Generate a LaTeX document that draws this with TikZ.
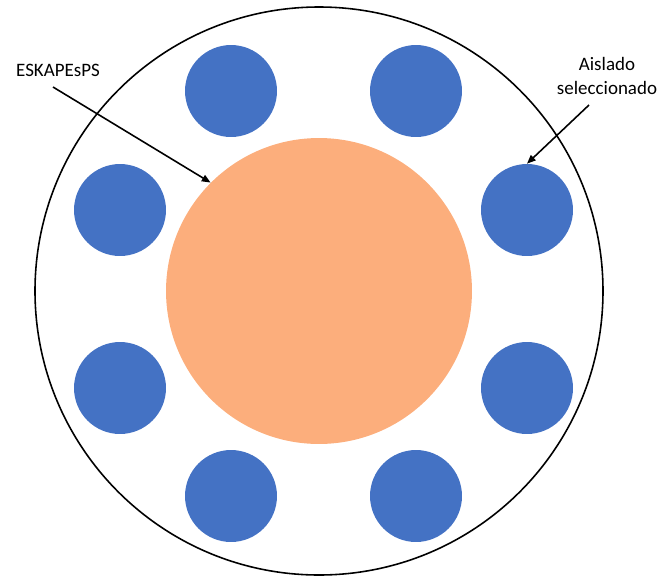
\documentclass[tikz,border=0pt]{standalone}
\usepackage{fontspec}
\setmainfont{Carlito}
\usepackage{tikz}
\usetikzlibrary{arrows.meta}

\definecolor{isoblue}{RGB}{68,114,196}
\definecolor{coreorange}{RGB}{252,174,124}

\begin{document}
\begin{tikzpicture}[
  x=0.02cm, y=-0.02cm,
  font=\fontsize{10.8}{13.6}\selectfont,
  >={Triangle[length=5pt,width=4pt]},
  every node/.style={align=center},
  ring/.style={draw, line width=0.9pt},
  iso/.style={circle, fill=isoblue, minimum size=1.84cm, inner sep=0pt},
  core/.style={circle, fill=coreorange, minimum size=6.12cm, inner sep=0pt},
  lbl/.style={inner sep=1pt},
  arr/.style={->, line width=0.9pt}
]
\useasboundingbox (0,0) rectangle (660,579);

% plate
\draw[ring] (319,291) circle (284);
\node[core] (core) at (319,291) {};

% isolates round the core
\node[iso] (iso1) at (231,91) {};
\node[iso] (iso2) at (416,91) {};
\node[iso] (iso3) at (120,210) {};
\node[iso] (iso4) at (527,210) {};
\node[iso] (iso5) at (120,388) {};
\node[iso] (iso6) at (527,388) {};
\node[iso] (iso7) at (231,496) {};
\node[iso] (iso8) at (416,496) {};

% labels
\node[lbl] (eskape) at (58,70) {ESKAPEsPS};
\node[lbl] (sel) at (607,76) {Aislado\\seleccionado};
\coordinate (eskapeTail) at (53,87);
\coordinate (selTail) at (589,105);

\draw[arr] (eskapeTail) -- (core.135);
\draw[arr] (selTail) -- (iso4.north);
\end{tikzpicture}
\end{document}
